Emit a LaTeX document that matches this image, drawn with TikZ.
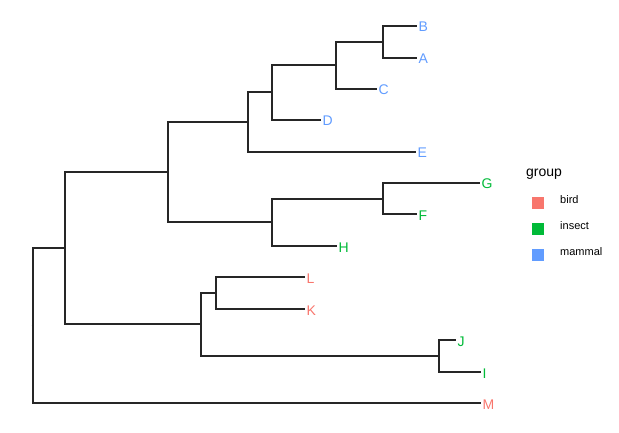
\documentclass[tikz,border=0pt]{standalone}
\usepackage{fontspec}
\setmainfont{Liberation Sans}
\definecolor{bird}{HTML}{F8766D}
\definecolor{insect}{HTML}{00BA38}
\definecolor{mammal}{HTML}{619CFF}
\tikzset{
  edge/.style={draw=black!85, line width=1.2pt, line cap=rect},
  tiplab/.style={anchor=base west, inner sep=0pt, xshift=2.5pt, yshift=-6pt, font=\fontsize{14}{16}\selectfont},
  keybox/.style={minimum size=12pt, inner sep=0pt, draw=none},
  keylab/.style={anchor=base west, inner sep=0pt, font=\fontsize{11}{13}\selectfont},
}
\begin{document}
\begin{tikzpicture}[x=1pt, y=-1pt]
\useasboundingbox (0,0) rectangle (619,433);
% internal nodes
\coordinate (r) at (33,325.5);
\coordinate (n1) at (65,248);
\coordinate (n2) at (168,172);
\coordinate (n3) at (201,324);
\coordinate (n4) at (248,122);
\coordinate (n5) at (272,92);
\coordinate (n6) at (336,65);
\coordinate (n7) at (383,42);
\coordinate (n8) at (272,222);
\coordinate (n9) at (383,199);
\coordinate (n10) at (216,293);
\coordinate (n11) at (439,356);
% tips
\coordinate (tB) at (416,26);
\coordinate (tA) at (416,58);
\coordinate (tC) at (376,89);
\coordinate (tD) at (320,120);
\coordinate (tE) at (415,152);
\coordinate (tG) at (479,183);
\coordinate (tF) at (416,214);
\coordinate (tH) at (336,246);
\coordinate (tL) at (304,277);
\coordinate (tK) at (304,309);
\coordinate (tJ) at (455,340);
\coordinate (tI) at (480,372);
\coordinate (tM) at (480,403);
\coordinate (stub) at (31.5,325.5);
% edges
\draw[edge, line cap=butt] (stub) -- (r);
\draw[edge] (r) |- (n1);
\draw[edge] (r) |- (tM);
\draw[edge] (n1) |- (n2);
\draw[edge] (n1) |- (n3);
\draw[edge] (n2) |- (n4);
\draw[edge] (n2) |- (n8);
\draw[edge] (n4) |- (n5);
\draw[edge] (n4) |- (tE);
\draw[edge] (n5) |- (n6);
\draw[edge] (n5) |- (tD);
\draw[edge] (n6) |- (n7);
\draw[edge] (n6) |- (tC);
\draw[edge] (n7) |- (tB);
\draw[edge] (n7) |- (tA);
\draw[edge] (n8) |- (n9);
\draw[edge] (n8) |- (tH);
\draw[edge] (n9) |- (tG);
\draw[edge] (n9) |- (tF);
\draw[edge] (n3) |- (n10);
\draw[edge] (n3) |- (n11);
\draw[edge] (n10) |- (tL);
\draw[edge] (n10) |- (tK);
\draw[edge] (n11) |- (tJ);
\draw[edge] (n11) |- (tI);
% tip labels
\node[tiplab, text=mammal] (lB) at (tB) {B};
\node[tiplab, text=mammal] (lA) at (tA) {A};
\node[tiplab, text=mammal] (lC) at (tC) {C};
\node[tiplab, text=mammal] (lD) at (tD) {D};
\node[tiplab, text=mammal] (lE) at (tE) {E};
\node[tiplab, text=insect] (lG) at (tG) {G};
\node[tiplab, text=insect] (lF) at (tF) {F};
\node[tiplab, text=insect] (lH) at (tH) {H};
\node[tiplab, text=bird] (lL) at (tL) {L};
\node[tiplab, text=bird] (lK) at (tK) {K};
\node[tiplab, text=insect] (lJ) at (tJ) {J};
\node[tiplab, text=insect] (lI) at (tI) {I};
\node[tiplab, text=bird] (lM) at (tM) {M};
% legend
\node[anchor=base west, inner sep=0pt, font=\fontsize{14}{16}\selectfont] (gt) at (526,177) {group};
\node[keybox, fill=bird] (kb) at (538,203) {};
\node[keybox, fill=insect] (ki) at (538,229) {};
\node[keybox, fill=mammal] (km) at (538,254.5) {};
\node[keylab] (tb) at (560,203.5) {bird};
\node[keylab] (ti) at (560,229.5) {insect};
\node[keylab] (tm) at (560,255) {mammal};
\end{tikzpicture}
\end{document}
